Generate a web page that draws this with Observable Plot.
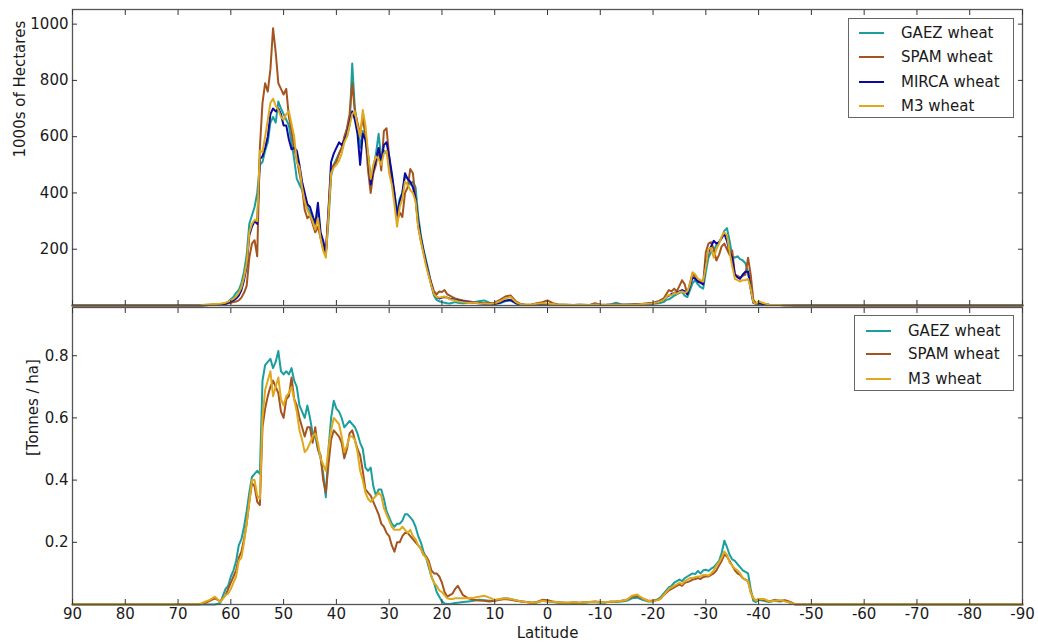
<!DOCTYPE html>
<html>
<head>
<meta charset="utf-8">
<script src="https://cdn.jsdelivr.net/npm/d3@7"></script>
<script src="https://cdn.jsdelivr.net/npm/@observablehq/plot@0.6"></script>
<style>
  html, body { margin: 0; padding: 0; background: #fff; }
  #wrap { position: relative; width: 1038px; height: 642px; font-family: "DejaVu Sans", sans-serif; }
  #top, #bottom { position: absolute; left: 0; }
  #top { top: 0; }
  #bottom { top: 306px; }
  .legend { position: absolute; background: #fff; border: 1px solid #666; box-sizing: border-box; font-size: 15px; color: #1a1a1a; }
  .legend .row { position: absolute; height: 0; }
  .legend .sw { position: absolute; height: 2px; width: 25px; top: -1px; }
  .legend .tx { position: absolute; white-space: nowrap; top: -9px; line-height: 18px; }
</style>
</head>
<body>
<div id="wrap">
  <div id="top"></div>
  <div id="bottom"></div>
</div>
<script>
// ---------- data ----------
const latitude = [90,
  66,65,64,63,62,61,
  60.5,60,59.5,59,58.5,58,57.5,57,56.5,56,55.5,55,54.5,54,53.5,53,52.5,52,51.5,51,50.5,50,49.5,49,48.5,48,47.5,47,46.5,46,45.5,45,44.5,44,43.5,43,42.5,42,41.5,41,40.5,40,39.5,39,38.5,38,37.5,37,36.5,36,35.5,35,34.5,34,33.5,33,32.5,32,31.5,31,30.5,30,29.5,29,28.5,28,27.5,27,26.5,26,25.5,25,24.5,24,23.5,23,22.5,22,21.5,21,20.5,20,19.5,19,18.5,18,17.5,17,
  16,15,14,13,12,11,10,9,8,7,6,5,4,3,2,1,0,-1,-2,-3,-4,-5,-6,-7,-8,-9,-10,-11,-12,-13,-14,-15,-16,-17,-18,-19,-20,-21,
  -21.5,-22,-22.5,-23,-23.5,-24,-24.5,-25,-25.5,-26,-26.5,-27,-27.5,-28,-28.5,-29,-29.5,-30,-30.5,-31,-31.5,-32,-32.5,-33,-33.5,-34,-34.5,-35,-35.5,-36,-36.5,-37,-37.5,-38,-38.5,-39,-39.5,-40,
  -41,-42,-43,-44,-45,-46,-47,
  -90];

// Harvested area, 1000s of hectares
const gaezArea = [0,
  0,1,2,3,4,8,
  14,22,30,45,55,80,120,180,290,320,
  350,400,500,510,550,580,650,670,650,725,
  700,680,660,640,580,520,450,430,410,380,
  350,330,300,270,330,250,210,180,300,460,
  500,520,540,560,590,600,640,860,700,640,
  560,620,600,540,440,490,540,610,520,550,
  540,520,450,400,330,380,400,460,450,430,
  440,420,320,250,200,160,120,70,35,20,
  15,12,10,8,7,10,12,10,
  8,10,12,15,18,10,6,8,15,18,8,3,2,3,6,8,5,4,3,3,2,2,3,2,2,3,2,2,4,10,4,3,4,5,4,5,6,8,
  10,12,20,22,28,35,40,45,48,35,30,55,80,90,75,65,60,120,170,190,195,215,225,240,265,275,230,175,170,175,165,160,150,120,60,10,6,8,
  5,3,2,2,1,1,0,
  0];
const spamArea = [0,
  0,2,3,4,5,5,
  8,10,12,14,18,28,45,70,170,220,
  232,175,560,720,790,760,840,985,900,790,
  770,750,770,670,620,560,520,470,420,340,
  310,320,290,260,280,240,200,185,330,480,
  500,510,540,560,600,630,680,790,690,650,
  610,670,600,480,400,470,500,560,480,620,
  630,530,450,380,300,330,315,400,420,485,
  470,380,280,230,190,150,110,80,50,40,
  50,48,55,40,35,30,25,22,
  18,15,12,10,8,8,10,20,32,36,15,5,3,4,8,12,18,8,4,3,3,2,3,3,2,8,4,3,3,4,3,3,4,5,6,8,10,15,
  20,25,40,55,50,60,50,70,90,75,40,80,115,100,90,85,80,190,220,225,200,160,180,210,220,200,180,195,110,105,100,105,110,170,110,20,8,12,
  6,3,2,2,2,1,0,
  0];
const mircaArea = [0,
  0,1,2,3,4,6,
  10,14,18,25,35,55,90,140,250,280,
  300,290,520,530,560,600,680,700,690,700,
  680,640,640,590,555,560,550,500,440,400,
  360,350,320,290,365,260,230,185,340,510,
  540,560,580,570,585,610,650,690,660,610,
  500,610,590,530,430,480,520,560,510,570,
  580,530,470,400,320,370,400,470,450,440,
  420,380,300,240,195,150,110,75,40,30,
  25,28,30,28,24,22,20,18,
  14,12,10,8,6,6,6,10,18,20,8,3,2,3,5,6,4,3,2,2,2,2,2,2,2,3,2,2,3,4,3,3,3,4,5,6,8,12,
  15,20,30,35,40,45,45,50,55,50,40,70,100,95,85,80,75,150,190,210,230,220,225,240,255,230,190,170,110,100,95,110,120,120,60,10,6,8,
  4,2,2,2,1,1,0,
  0];
const m3Area = [0,
  0,3,4,5,6,10,
  14,18,24,32,45,65,100,150,260,290,
  305,300,550,545,600,660,720,735,710,695,
  670,660,680,690,645,600,510,490,420,370,
  340,320,300,270,310,240,195,170,320,470,
  490,500,515,540,580,600,640,680,690,640,
  600,695,640,540,450,500,530,520,500,540,
  550,470,430,360,280,350,380,440,430,410,
  400,370,280,230,185,140,105,70,40,30,
  28,30,32,28,22,20,18,15,
  12,10,10,8,7,6,8,15,25,30,12,4,3,4,6,8,6,5,3,3,2,2,3,2,2,4,3,2,3,4,3,3,3,4,5,6,8,12,
  15,20,30,38,35,45,42,48,50,45,50,75,118,110,95,90,85,140,200,205,170,200,220,245,260,250,190,140,95,90,85,90,90,95,60,12,6,15,
  8,3,2,2,1,1,0,
  0];

// Yield, tonnes / ha
const gaezYield = [0,
  0,0,0,0,0.005,0.05,
  0.06,0.09,0.11,0.14,0.19,0.21,0.25,0.30,0.36,0.41,
  0.42,0.43,0.42,0.72,0.77,0.78,0.79,0.76,0.78,0.815,
  0.75,0.74,0.75,0.74,0.76,0.72,0.70,0.64,0.62,0.60,
  0.64,0.60,0.55,0.54,0.50,0.47,0.42,0.345,0.50,0.60,
  0.655,0.63,0.62,0.60,0.57,0.58,0.59,0.58,0.57,0.55,
  0.52,0.50,0.44,0.43,0.44,0.38,0.35,0.37,0.37,0.34,
  0.30,0.28,0.26,0.25,0.26,0.26,0.27,0.29,0.29,0.28,
  0.27,0.25,0.22,0.20,0.17,0.15,0.12,0.09,0.07,0.04,
  0.025,0.01,0.003,0.002,0.002,0.003,0.005,0.006,
  0.008,0.01,0.012,0.015,0.014,0.012,0.012,0.018,0.02,0.018,0.014,0.01,0.008,0.006,0.006,0.012,0.01,0.008,0.006,0.006,0.005,0.006,0.005,0.006,0.007,0.008,0.006,0.006,0.01,0.008,0.01,0.012,0.02,0.022,0.015,0.01,0.01,0.018,
  0.025,0.035,0.045,0.055,0.06,0.07,0.075,0.08,0.075,0.085,0.09,0.095,0.10,0.098,0.108,0.10,0.11,0.112,0.108,0.115,0.12,0.13,0.14,0.165,0.205,0.185,0.16,0.145,0.14,0.13,0.12,0.11,0.105,0.10,0.05,0.012,0.008,0.015,
  0.012,0.008,0.012,0.01,0.012,0.005,0,
  0];
const spamYield = [0,
  0,0.004,0.012,0.02,0.01,0.03,
  0.05,0.07,0.09,0.11,0.15,0.17,0.21,0.26,0.33,0.39,
  0.38,0.33,0.32,0.57,0.63,0.67,0.70,0.72,0.70,0.68,
  0.62,0.60,0.66,0.67,0.73,0.66,0.64,0.60,0.57,0.54,
  0.57,0.57,0.52,0.57,0.50,0.48,0.40,0.36,0.45,0.53,
  0.56,0.55,0.54,0.52,0.47,0.50,0.55,0.56,0.53,0.50,
  0.48,0.43,0.37,0.36,0.35,0.33,0.31,0.29,0.26,0.25,
  0.23,0.22,0.19,0.17,0.20,0.20,0.22,0.23,0.23,0.22,
  0.21,0.20,0.19,0.18,0.16,0.155,0.14,0.11,0.10,0.10,
  0.09,0.07,0.04,0.025,0.03,0.035,0.05,0.06,
  0.03,0.02,0.015,0.013,0.012,0.01,0.012,0.015,0.018,0.015,0.012,0.01,0.008,0.006,0.008,0.015,0.014,0.01,0.007,0.006,0.006,0.007,0.006,0.007,0.008,0.01,0.008,0.008,0.008,0.01,0.012,0.015,0.025,0.028,0.02,0.012,0.012,0.015,
  0.02,0.03,0.038,0.045,0.05,0.055,0.06,0.065,0.06,0.07,0.072,0.075,0.08,0.082,0.085,0.082,0.088,0.09,0.09,0.095,0.10,0.11,0.125,0.14,0.16,0.155,0.14,0.125,0.11,0.10,0.095,0.085,0.08,0.075,0.04,0.02,0.012,0.018,
  0.015,0.01,0.015,0.012,0.014,0.008,0,
  0];
const m3Yield = [0,
  0,0.008,0.015,0.025,0.008,0.03,
  0.035,0.05,0.07,0.09,0.14,0.15,0.20,0.26,0.33,0.40,
  0.40,0.35,0.34,0.60,0.69,0.72,0.75,0.67,0.70,0.73,
  0.66,0.64,0.67,0.68,0.70,0.66,0.62,0.56,0.53,0.49,
  0.50,0.52,0.54,0.55,0.52,0.47,0.45,0.43,0.50,0.56,
  0.60,0.59,0.58,0.54,0.49,0.51,0.54,0.54,0.53,0.49,
  0.43,0.40,0.36,0.34,0.33,0.34,0.35,0.36,0.35,0.31,
  0.29,0.27,0.25,0.24,0.24,0.24,0.25,0.24,0.23,0.24,
  0.22,0.21,0.19,0.18,0.16,0.15,0.13,0.09,0.07,0.06,
  0.045,0.04,0.03,0.02,0.018,0.018,0.02,0.02,
  0.02,0.02,0.022,0.025,0.028,0.022,0.015,0.018,0.02,0.018,0.014,0.01,0.008,0.006,0.007,0.012,0.01,0.009,0.007,0.006,0.006,0.007,0.006,0.007,0.008,0.009,0.007,0.008,0.009,0.01,0.012,0.015,0.028,0.032,0.02,0.012,0.01,0.015,
  0.02,0.03,0.04,0.05,0.055,0.06,0.065,0.07,0.065,0.075,0.08,0.085,0.085,0.088,0.09,0.09,0.095,0.095,0.093,0.10,0.11,0.125,0.135,0.15,0.17,0.16,0.135,0.125,0.115,0.11,0.10,0.085,0.08,0.075,0.04,0.02,0.012,0.018,
  0.018,0.01,0.012,0.014,0.01,0.006,0,
  0];

const xTicks = [90,80,70,60,50,40,30,20,10,0,-10,-20,-30,-40,-50,-60,-70,-80,-90];
const areaTicks = [200,400,600,800,1000];
const yieldTicks = [0.2,0.4,0.6,0.8];

const areaSeries = [
  {name: "GAEZ wheat", values: gaezArea, color: "#1a9e9e"},
  {name: "SPAM wheat", values: spamArea, color: "#a4541f"},
  {name: "MIRCA wheat", values: mircaArea, color: "#0a0aa0"},
  {name: "M3 wheat", values: m3Area, color: "#e0a91c"}
];
const yieldSeries = [
  {name: "GAEZ wheat", values: gaezYield, color: "#1a9e9e"},
  {name: "SPAM wheat", values: spamYield, color: "#a4541f"},
  {name: "M3 wheat", values: m3Yield, color: "#e0a91c"}
];

// ---------- drawing ----------
const toRows = (vals) => latitude.map((lat, i) => ({lat, v: vals[i]}));
[...areaSeries, ...yieldSeries].forEach(s => {
  if (s.values.length !== latitude.length) console.error(s.name, s.values.length, latitude.length);
});

const tickColor = "#333";
const style = {fontFamily: "DejaVu Sans, sans-serif", fontSize: "15px", color: "#1a1a1a", background: "transparent", overflow: "visible"};

function lines(series) {
  return series.map(s => Plot.line(toRows(s.values), {
    x: "lat", y: "v", stroke: s.color, strokeWidth: 2, strokeLinejoin: "round"
  }));
}

const topChart = Plot.plot({
  width: 1038, height: 306,
  marginTop: 9, marginBottom: 1, marginLeft: 72, marginRight: 16,
  style,
  x: {domain: [90, -90]},
  y: {domain: [0, 1052]},
  marks: [
    ...lines(areaSeries),
    Plot.frame({stroke: "#555", strokeWidth: 1.3}),
    Plot.axisX(xTicks, {anchor: "top", tickSize: -5, tickFormat: () => "", label: null, stroke: tickColor}),
    Plot.axisX(xTicks, {anchor: "bottom", tickSize: -5, tickFormat: () => "", label: null, stroke: tickColor}),
    Plot.axisY(areaTicks, {anchor: "left", tickSize: -5, tickPadding: 9, tickFormat: d => String(d), label: null, stroke: tickColor}),
    Plot.axisY(areaTicks, {anchor: "right", tickSize: -5, tickFormat: () => "", label: null, stroke: tickColor}),
    Plot.text(["1000s of Hectares"], {text: d => d, frameAnchor: "left", dx: -52, rotate: -90, fontSize: 15, fill: "#1a1a1a"})
  ]
});
document.getElementById("top").append(topChart);

const bottomChart = Plot.plot({
  width: 1038, height: 336,
  marginTop: 1, marginBottom: 38, marginLeft: 72, marginRight: 16,
  style,
  x: {domain: [90, -90]},
  y: {domain: [0, 0.955]},
  marks: [
    ...lines(yieldSeries),
    Plot.frame({stroke: "#555", strokeWidth: 1.3}),
    Plot.axisX(xTicks, {anchor: "top", tickSize: -5, tickFormat: () => "", label: null, stroke: tickColor}),
    Plot.axisX(xTicks, {anchor: "bottom", tickSize: -5, tickPadding: 9, tickFormat: d => String(d), label: null, stroke: tickColor}),
    Plot.axisY(yieldTicks, {anchor: "left", tickSize: -5, tickPadding: 9, tickFormat: d => String(d), label: null, stroke: tickColor}),
    Plot.axisY(yieldTicks, {anchor: "right", tickSize: -5, tickFormat: () => "", label: null, stroke: tickColor}),
    Plot.text(["[Tonnes / ha]"], {text: d => d, frameAnchor: "left", dx: -39, rotate: -90, fontSize: 15, fill: "#1a1a1a"}),
    Plot.text(["Latitude"], {text: d => d, frameAnchor: "bottom", dy: 23, lineAnchor: "top", fontSize: 15, fill: "#1a1a1a"})
  ]
});
document.getElementById("bottom").append(bottomChart);

// ---------- legends ----------
function legend(series, box, rowTops, swLeft, txLeft) {
  const el = document.createElement("div");
  el.className = "legend";
  Object.assign(el.style, {left: box.left + "px", top: box.top + "px", width: box.width + "px", height: box.height + "px"});
  series.forEach((s, i) => {
    const row = document.createElement("div");
    row.className = "row";
    row.style.top = rowTops[i] + "px";
    row.style.left = "0px";
    const sw = document.createElement("div");
    sw.className = "sw";
    sw.style.left = swLeft + "px";
    sw.style.background = s.color;
    const tx = document.createElement("div");
    tx.className = "tx";
    tx.style.left = txLeft + "px";
    tx.textContent = s.name;
    row.append(sw, tx);
    el.append(row);
  });
  document.getElementById("wrap").append(el);
}
legend(areaSeries, {left: 848, top: 18, width: 166, height: 100}, [14, 38, 63, 87], 10, 52);
legend(yieldSeries, {left: 854, top: 315, width: 160, height: 76}, [15, 38, 63], 11, 53);
</script>
</body>
</html>
